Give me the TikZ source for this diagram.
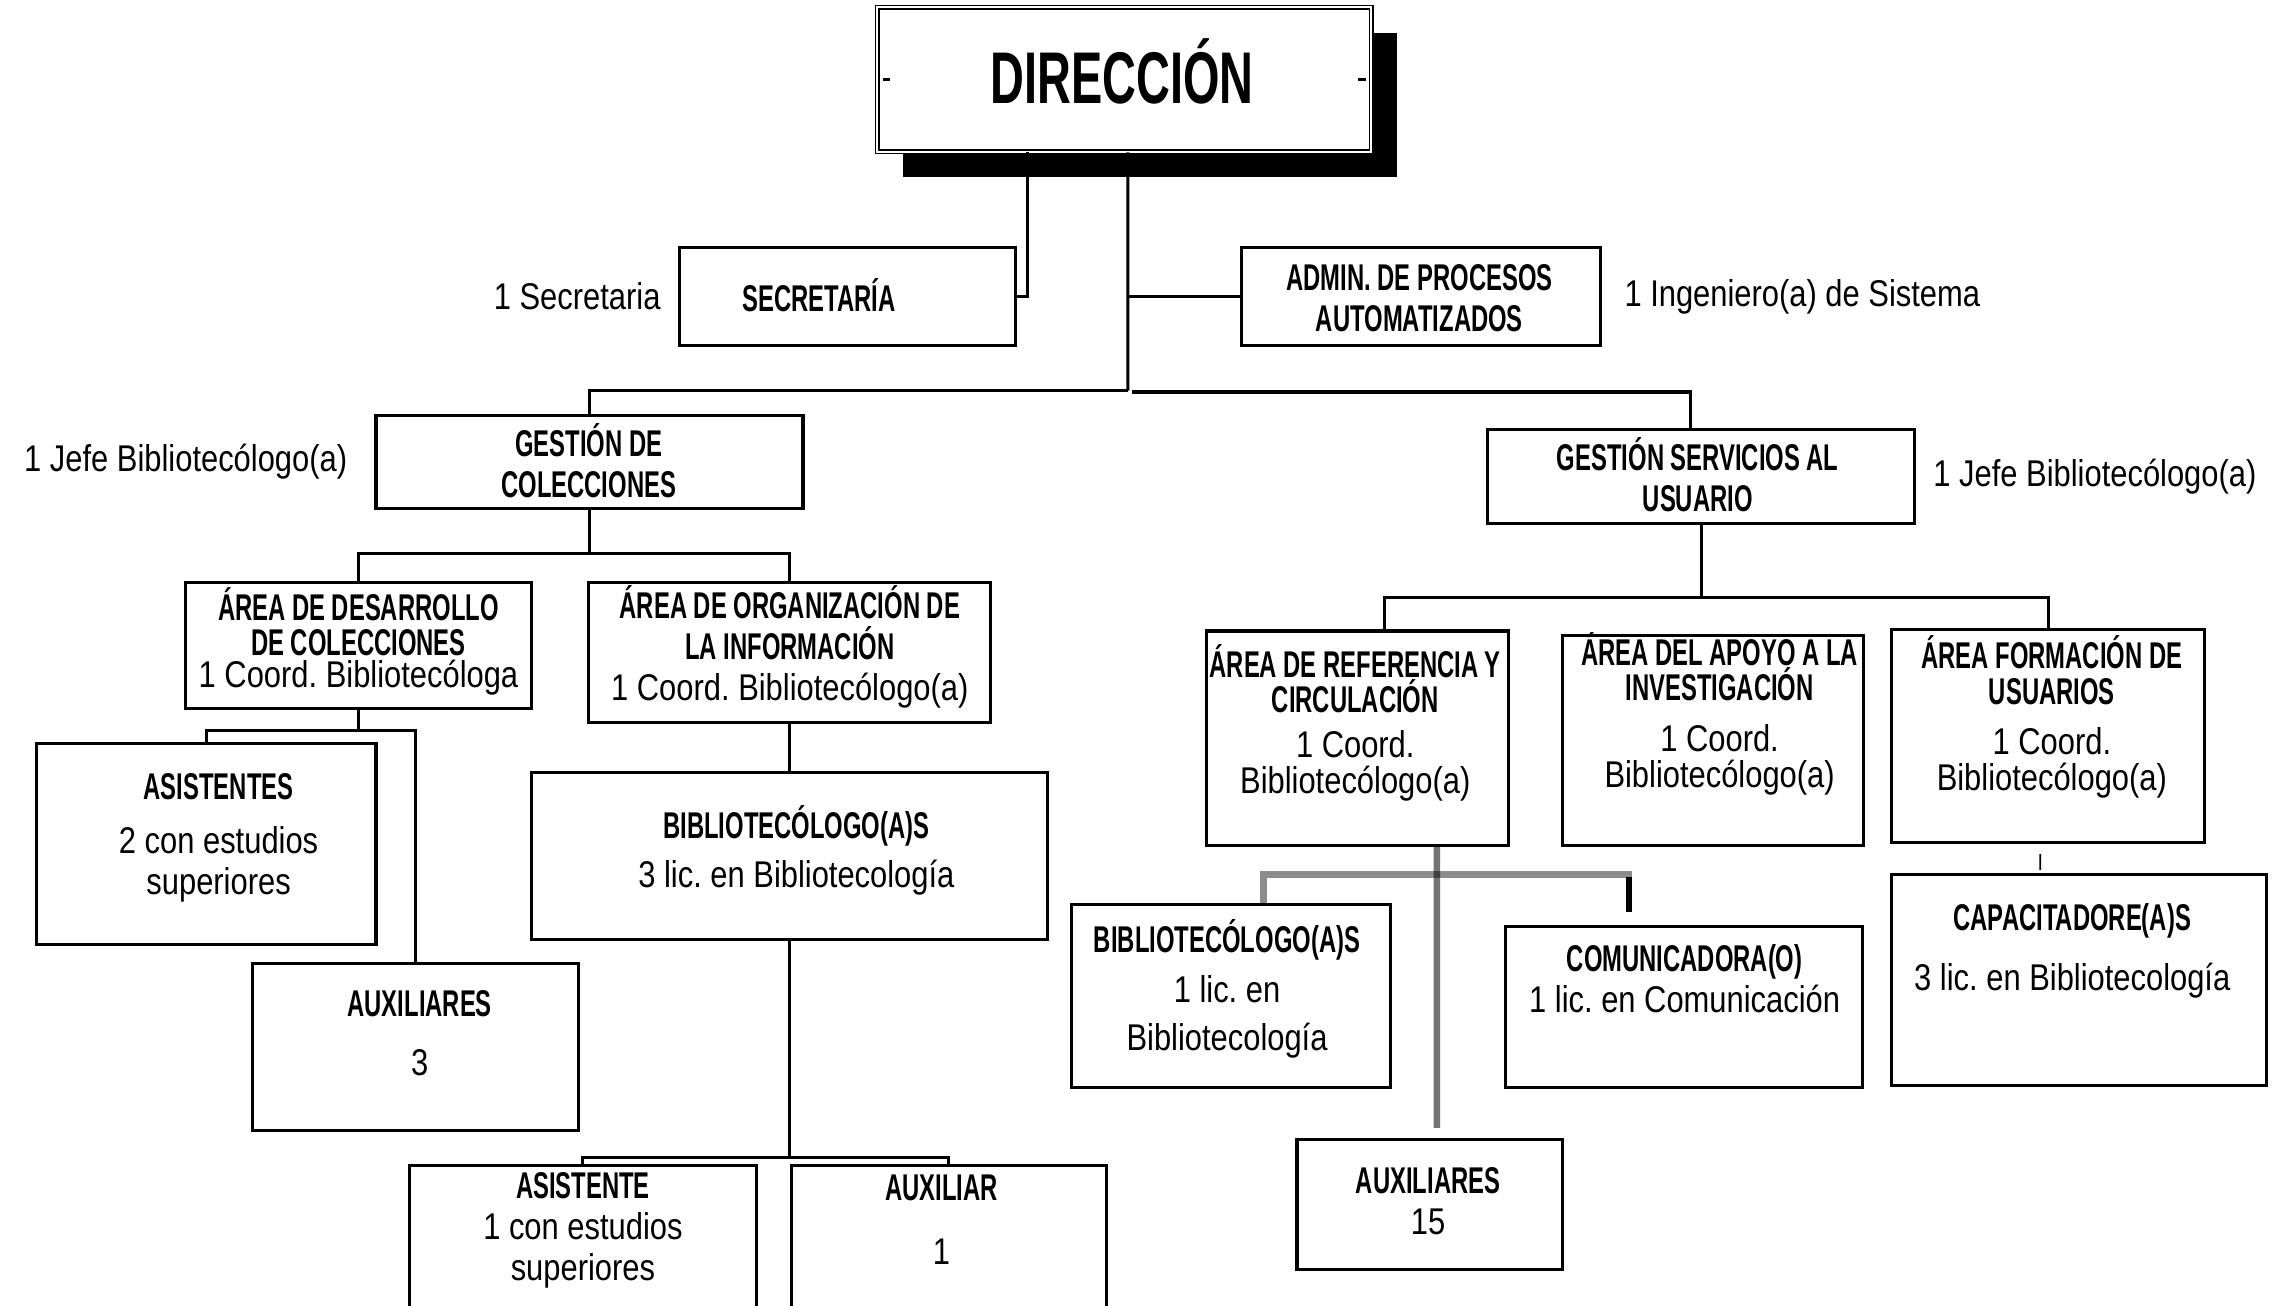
\documentclass[tikz,border=0pt]{standalone}
\usepackage{fontspec}
\setmainfont{Liberation Sans}[FakeStretch=0.83]
\newfontfamily\cabfont{Liberation Sans}[FakeStretch=0.64]
\usetikzlibrary{positioning,shadows}
\newcommand{\cab}[1]{{\cabfont\bfseries #1}}
\frenchspacing

\begin{document}
\begin{tikzpicture}[font=\fontsize{7.27}{8}\selectfont]
	\useasboundingbox (0,0) rectangle (15.68,-8.96);
	\clip (0,0) rectangle (15.68,-8.96);

	% cuadros
	\begin{scope}[every node/.style={rectangle,draw,line width=0.6pt,fill=white,inner sep=0pt}]
		\node[double, line width=0.3pt, double distance=0.4pt,
			minimum width=3.39cm, minimum height=0.99cm,
			drop shadow={shadow xshift=0.175cm, shadow yshift=-0.175cm, fill=black, opacity=1}] (dir) at (7.715,-0.545) {};
		\node[minimum width=2.31cm, minimum height=0.67cm] (sec) at (5.815,-2.035) {};
		\node[minimum width=2.46cm, minimum height=0.67cm] (adm) at (9.75,-2.035) {};
		\node[minimum width=2.93cm, minimum height=0.64cm] (gcol) at (4.045,-3.17) {};
		\node[minimum width=2.93cm, minimum height=0.64cm] (gser) at (11.675,-3.27) {};
		\node[minimum width=2.38cm, minimum height=0.86cm] (ades) at (2.46,-4.43) {};
		\node[minimum width=2.76cm, minimum height=0.96cm] (aorg) at (5.42,-4.48) {};
		\node[minimum width=2.33cm, minimum height=1.38cm] (asis) at (1.415,-5.79) {};
		\node[minimum width=2.24cm, minimum height=1.15cm] (aux3) at (2.85,-7.185) {};
		\node[minimum width=3.54cm, minimum height=1.15cm] (bib3) at (5.42,-5.875) {};
		\node[minimum width=2.38cm, minimum height=1.40cm] (asi1) at (4.00,-8.70) {};
		\node[minimum width=2.16cm, minimum height=1.40cm] (aux1) at (6.51,-8.70) {};
		\node[minimum width=2.07cm, minimum height=1.47cm] (aref) at (9.315,-5.065) {};
		\node[minimum width=2.07cm, minimum height=1.44cm] (aapo) at (11.755,-5.08) {};
		\node[minimum width=2.15cm, minimum height=1.46cm] (afor) at (14.055,-5.05) {};
		\node[minimum width=2.19cm, minimum height=1.25cm] (bibr) at (8.445,-6.835) {};
		\node[minimum width=2.45cm, minimum height=1.10cm] (com) at (11.555,-6.91) {};
		\node[minimum width=1.82cm, minimum height=0.89cm] (aux15) at (9.81,-8.265) {};
		\node[minimum width=2.57cm, minimum height=1.45cm] (capa) at (14.265,-6.725) {};
	\end{scope}

	% marcas de la direccion
	\draw[line width=0.6pt] ([xshift=0.045cm]dir.west) -- ++(0.05,0);
	\draw[line width=0.6pt] ([xshift=-0.045cm]dir.east) -- ++(-0.05,0);

	% textos
	\begin{scope}[every node/.style={align=center,inner sep=0pt}]
		\node[anchor=base] (dirT) at (7.70,-0.71) {\cabfont\bfseries\fontsize{14.3}{16}\selectfont DIRECCIÓN};
		\node[anchor=base] (secT) at (5.62,-2.14) {\cab{SECRETARÍA}};
		\node (admT) at (9.74,-2.045) {\cab{ADMIN. DE PROCESOS}\\\cab{AUTOMATIZADOS}};
		\node (gcolT) at (4.04,-3.16) {\cab{GESTIÓN DE}\\\cab{COLECCIONES}};
		\node (gserT) at (11.65,-3.255) {\cab{GESTIÓN SERVICIOS AL}\\\cab{USUARIO}};
		\node (adesT) at (2.46,-4.40) {\cab{ÁREA DE DESARROLLO}\\[-1.2pt]\cab{DE COLECCIONES}\\[-1.7pt]1 Coord. Bibliotecóloga};
		\node (aorgT) at (5.42,-4.44) {\cab{ÁREA DE ORGANIZACIÓN DE}\\\cab{LA INFORMACIÓN}\\1 Coord. Bibliotecólogo(a)};
		\node (asisT) at (1.50,-5.75) {\cab{ASISTENTES}\\[2.5pt]2 con estudios\\superiores};
		\node (aux3T) at (2.88,-7.09) {\cab{AUXILIARES}\\[3.4pt]3};
		\node (bib3T) at (5.465,-5.835) {\cab{BIBLIOTECÓLOGO(A)S}\\[1.4pt]3 lic. en Bibliotecología};
		\node (asi1T) at (4.00,-8.44) {\cab{ASISTENTE}\\1 con estudios\\superiores};
		\node (aux1T) at (6.46,-8.37) {\cab{AUXILIAR}\\[4.5pt]1};
		\node (arefT) at (9.30,-4.96) {\cab{ÁREA DE REFERENCIA Y}\\[-1.2pt]\cab{CIRCULACIÓN}\\[0.8pt]1 Coord.\\[-0.9pt]Bibliotecólogo(a)};
		\node (aapoT) at (11.80,-4.90) {\cab{ÁREA DEL APOYO A LA}\\[-1.2pt]\cab{INVESTIGACIÓN}\\[2pt]1 Coord.\\[-0.9pt]Bibliotecólogo(a)};
		\node (aforT) at (14.08,-4.92) {\cab{ÁREA FORMACIÓN DE}\\[-0.9pt]\cab{USUARIOS}\\[1.7pt]1 Coord.\\[-0.9pt]Bibliotecólogo(a)};
		\node (bibrT) at (8.42,-6.785) {\cab{BIBLIOTECÓLOGO(A)S}\\[1.7pt]1 lic. en\\[1.4pt]Bibliotecología};
		\node (comT) at (11.56,-6.715) {\cab{COMUNICADORA(O)}\\1 lic. en Comunicación};
		\node (aux15T) at (9.80,-8.24) {\cab{AUXILIARES}\\15};
		\node (capaT) at (14.22,-6.525) {\cab{CAPACITADORE(A)S}\\[3.7pt]3 lic. en Bibliotecología};

		\node[left=0.11cm of sec] (secL) {1 Secretaria};
		\node[right=0.15cm of adm] (admL) {1 Ingeniero(a) de Sistema};
		\node[left=0.18cm of gcol] (gcolL) {1 Jefe Bibliotecólogo(a)};
		\node[right=0.11cm of gser] (gserL) {1 Jefe Bibliotecólogo(a)};
	\end{scope}

	% lineas
	\begin{scope}[line width=0.6pt]
		\coordinate (tronco) at (7.74,-2.68);
		\draw (sec.east) -| ([xshift=-0.665cm]dir.south);
		\draw ([xshift=0.025cm]dir.south) -- (tronco);
		\draw (adm.west) -- (adm.west -| tronco);
		\draw (tronco) -| (gcol.north);
		\draw ([xshift=0.03cm,yshift=-0.01cm]tronco) -| ([xshift=-0.075cm]gser.north);

		\draw (gcol.south) -- ++(0,-0.30) coordinate (gcolB);
		\draw (gcolB) -| (ades.north);
		\draw (gcolB) -| (aorg.north);

		\draw (ades.south) -- ++(0,-0.14) coordinate (adesB);
		\draw (adesB) -| (asis.north);
		\draw (adesB) -| (aux3.north);

		\draw (aorg.south) -- (bib3.north);
		\draw (bib3.south) -- ++(0,-1.48) coordinate (bib3B);
		\draw (bib3B) -| (asi1.north);
		\draw (bib3B) -| (aux1.north);

		\draw (gser.south) -- ++(0,-0.50) coordinate (gserB);
		\draw (gserB) -| ([xshift=0.185cm]aref.north);
		\draw (gserB) -| (afor.north);

		\coordinate (refB) at (9.86,-6.00);
		\draw[black, opacity=0.45, line width=1.3pt] ([xshift=0.225cm]bibr.north) |- (refB) -- ++(1.34,0);
		\draw[black, opacity=0.55, line width=1.3pt] ([xshift=0.545cm]aref.south) -- ([xshift=0.05cm,yshift=0.07cm]aux15.north);
		\draw[line width=1.2pt] ([xshift=-0.375cm,yshift=0.09cm]com.north) -- ++(0,0.24);

		\draw[line width=0.35pt] ([xshift=-0.055cm,yshift=-0.07cm]afor.south) -- ([xshift=-0.265cm,yshift=0.02cm]capa.north);
	\end{scope}
\end{tikzpicture}
\end{document}
